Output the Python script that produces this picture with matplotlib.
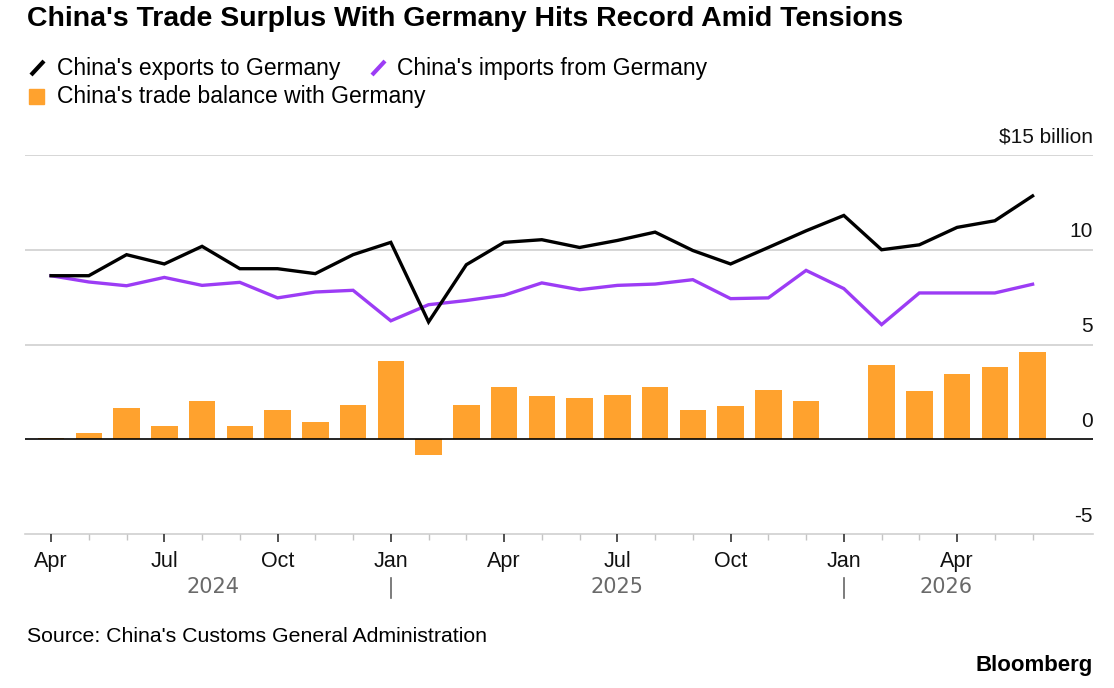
import numpy as np
import matplotlib
matplotlib.use('Agg')
import matplotlib.pyplot as plt
from matplotlib.lines import Line2D
from matplotlib.patches import Rectangle
import matplotlib.transforms as mtransforms

plt.rcParams['font.family'] = ['Liberation Sans', 'DejaVu Sans']

# monthly data, Apr 2024 - Jun 2026 ($ billion)
months = ['Apr', 'May', 'Jun', 'Jul', 'Aug', 'Sep', 'Oct', 'Nov', 'Dec',
          'Jan', 'Feb', 'Mar', 'Apr', 'May', 'Jun', 'Jul', 'Aug', 'Sep', 'Oct', 'Nov', 'Dec',
          'Jan', 'Feb', 'Mar', 'Apr', 'May', 'Jun']
exports = [8.63, 8.63, 9.74, 9.25, 10.18, 9.0, 9.0, 8.74, 9.74,
           10.39, 6.19, 9.21, 10.39, 10.53, 10.12, 10.49, 10.93, 9.96, 9.25, 10.12, 11.0,
           11.81, 10.0, 10.26, 11.18, 11.53, 12.84]
imports = [8.63, 8.3, 8.1, 8.54, 8.12, 8.28, 7.46, 7.77, 7.86,
           6.25, 7.1, 7.32, 7.6, 8.25, 7.89, 8.12, 8.19, 8.42, 7.42, 7.46, 8.91,
           7.95, 6.05, 7.72, 7.72, 7.72, 8.18]
balance = [0.05, 0.32, 1.63, 0.7, 2.0, 0.7, 1.53, 0.93, 1.82,
           4.12, -0.84, 1.82, 2.75, 2.28, 2.16, 2.33, 2.74, 1.53, 1.75, 2.6, 2.04,
           np.nan, 3.91, 2.56, 3.44, 3.79, 4.63]
years = ['2024', '2025', '2026']
year_pos = [4.3, 15.0, 23.7]
year_breaks = [9, 21]

BLACK = '#000000'
PURPLE = '#9c3cf5'
ORANGE = '#ffa22e'
GRID = '#d0d0d0'

W, H = 1114, 688
fig = plt.figure(figsize=(W / 100, H / 100), dpi=100)
ax = fig.add_axes([25 / W, 1 - 534 / H, (1093 - 25) / W, (534 - 155) / H])

x = np.arange(len(months))
ax.bar(x, balance, width=0.7, color=ORANGE, zorder=2)
ax.plot(x, imports, color=PURPLE, lw=2.4, zorder=3, solid_joinstyle='miter')
ax.plot(x, exports, color=BLACK, lw=2.4, zorder=4, solid_joinstyle='miter')

ax.set_xlim(-0.69, 27.6)
ax.set_ylim(-5, 15)
for s in ax.spines.values():
    s.set_visible(False)
ax.set_yticks([])
for v in [15, 10, 5]:
    ax.axhline(v, color=GRID, lw=1.2, zorder=1)
ax.axhline(0, color=BLACK, lw=1.2, zorder=5)
ax.axhline(-5, color=GRID, lw=1.2, zorder=1, clip_on=False)

# y labels above gridlines, right aligned
trans = mtransforms.blended_transform_factory(ax.transAxes, ax.transData)
offs = mtransforms.offset_copy(trans, fig=fig, x=0, y=6, units='points')
for v, lab in [(15, '$15 billion'), (10, '10'), (5, '5'), (0, '0'), (-5, '-5')]:
    ax.text(1.0, v, lab, transform=offs, ha='right', va='bottom', fontsize=15, color='#111111')

# x ticks
ax.set_xticks(x[::3])
ax.set_xticklabels(months[::3], fontsize=15.5)
ax.set_xticks(x, minor=True)
ax.tick_params(axis='x', which='major', length=6, width=1.2, color='#333333', pad=6, labelcolor='#111111')
ax.tick_params(axis='x', which='minor', length=4, width=1, color='#c4c4c4')

tx = mtransforms.blended_transform_factory(ax.transData, fig.transFigure)
for yr, p in zip(years, year_pos):
    fig.text(p, 1 - 587 / H, yr, transform=tx, ha='center', va='center', fontsize=15,
             color='#6a6a6a', family='DejaVu Sans')
for b in year_breaks:
    ax.add_artist(Line2D([b, b], [1 - 578 / H, 1 - 598 / H], transform=tx, color='#666666', lw=1.2, clip_on=False))

# title and legend
fig.text(27 / W, 1 - 19 / H, "China's Trade Surplus With Germany Hits Record Amid Tensions",
         fontsize=20.5, fontweight='bold', va='center', ha='left')

def leg_line(x0, y0, color):
    fig.add_artist(Line2D([x0 / W, (x0 + 13) / W], [1 - (y0 + 7) / H, 1 - (y0 - 7) / H],
                          color=color, lw=3, solid_capstyle='butt'))

leg_line(31, 68, BLACK)
fig.text(57 / W, 1 - 68 / H, "China's exports to Germany", fontsize=16.5, va='center')
leg_line(372, 68, PURPLE)
fig.text(397 / W, 1 - 68 / H, "China's imports from Germany", fontsize=16.5, va='center')
fig.add_artist(Rectangle((29 / W, 1 - 104 / H), 15 / W, 15 / H, color=ORANGE, transform=fig.transFigure))
fig.text(57 / W, 1 - 96 / H, "China's trade balance with Germany", fontsize=16.5, va='center')

fig.text(27 / W, 1 - 637 / H, "Source: China's Customs General Administration", fontsize=15.3, va='center')
fig.text(1093 / W, 1 - 666 / H, "Bloomberg", fontsize=16, fontweight='bold', va='center', ha='right')

fig.savefig('out.png', dpi=100, facecolor='white')
